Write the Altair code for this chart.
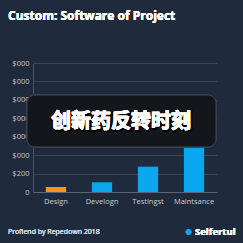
import altair as alt
import pandas as pd

categories = ["Design", "Develogn", "Testingst", "Maintsance"]
values = [55, 105, 275, 735]
colors = ["#f7941d", "#0aa6ee", "#0aa6ee", "#0aa6ee"]
y_ticks = [0, 200, 400, 600, 800, 1000, 1200, 1400]

title_text = "Custom: Software of Project"
footer_text = "Profiend by Repedown 2018"
legend_text = "Selfertul"
overlay_text = "创新药反转时刻"

df = pd.DataFrame({"cat": categories, "val": values, "color": colors})

W, H = 184, 129
BG = "#1f2a3d"

base = alt.Chart(df)

bars = base.mark_bar().encode(
    x=alt.X("cat:N", sort=categories, title=None,
            scale=alt.Scale(paddingInner=0.56, paddingOuter=0.28),
            axis=alt.Axis(labelAngle=0, labelColor="#c8cdd6", labelFontSize=7.5,
                          labelFont="Open Sans", labelFontWeight="normal",
                          domainColor="#5a6578", ticks=False, labelPadding=5)),
    y=alt.Y("val:Q", title=None,
            scale=alt.Scale(domain=[0, 1400], nice=False),
            axis=alt.Axis(values=y_ticks, labelColor="#c0c6d0", labelFontSize=7.5,
                          labelFont="Open Sans", labelFontWeight="normal",
                          gridColor="#3a4558", domainColor="#4a5568",
                          ticks=False, labelPadding=4,
                          labelExpr="datum.value == 0 ? '0' : datum.value == 200 ? '$200' : '$000'")),
    color=alt.Color("color:N", scale=None),
)

overlay_box = base.mark_rect(cornerRadius=8, fill="#14171c", fillOpacity=0.82,
                             stroke="#3c4350", strokeWidth=1).encode(
    x=alt.value(-6), x2=alt.value(183), y=alt.value(32), y2=alt.value(84)
)

overlay_shadow = base.mark_text(text=overlay_text, font="Noto Sans CJK SC", fontSize=20,
                                fontWeight="bold", color="#000000", align="center",
                                baseline="middle", stroke="#000000", strokeWidth=2.2,
                                strokeJoin="round").encode(
    x=alt.value(89), y=alt.value(60)
)

overlay_label = base.mark_text(text=overlay_text, font="Noto Sans CJK SC", fontSize=20,
                               fontWeight="bold", color="#ffffff", align="center",
                               baseline="middle", stroke="#ffffff", strokeWidth=0.4).encode(
    x=alt.value(88), y=alt.value(59)
)

title = base.mark_text(text=title_text, font="Open Sans", fontSize=12, fontWeight="bold",
                       color="#ffffff", align="left", baseline="alphabetic").encode(
    x=alt.value(-25), y=alt.value(-43)
)

footer = base.mark_text(text=footer_text, font="Open Sans", fontSize=7, fontWeight="normal",
                        color="#c8cdd6", align="left", baseline="middle").encode(
    x=alt.value(-25), y=alt.value(169)
)

dot = base.mark_circle(size=32, color="#0aa6ee", opacity=1).encode(
    x=alt.value(155.5), y=alt.value(169)
)

legend = base.mark_text(text=legend_text, font="Open Sans", fontSize=9.5, fontWeight="bold",
                        color="#ffffff", align="left", baseline="middle").encode(
    x=alt.value(162), y=alt.value(169)
)

chart = alt.layer(bars, overlay_box, overlay_shadow, overlay_label, title, footer, dot,
                  legend).properties(
    width=W, height=H,
    background=BG,
    padding={"left": 33, "top": 63, "right": 26, "bottom": 51},
    autosize=alt.AutoSizeParams(type="none"),
).configure_view(stroke=None)

chart.save("out.html", embed_options={"renderer": "svg", "actions": False})
